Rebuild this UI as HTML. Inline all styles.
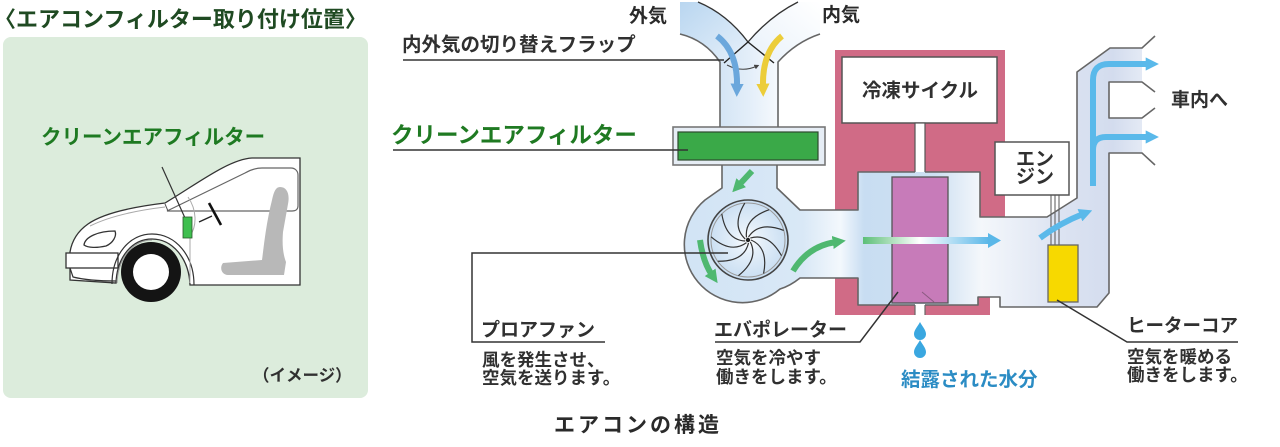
<!DOCTYPE html>
<html>
<head>
<meta charset="utf-8">
<style>
html,body{margin:0;padding:0;background:#fff;}
body{width:1280px;height:447px;overflow:hidden;}
svg{display:block;}
text{font-family:"Liberation Sans","Noto Sans CJK JP",sans-serif;fill:#2a2a2a;}
.b{font-weight:bold;}
.m{font-weight:bold;fill:#303030;}
</style>
</head>
<body>
<svg width="1280" height="447" viewBox="0 0 1280 447" xmlns="http://www.w3.org/2000/svg">
<defs>
  <linearGradient id="duct" gradientUnits="userSpaceOnUse" x1="690" y1="0" x2="1160" y2="0">
    <stop offset="0" stop-color="#d2e4f5"/>
    <stop offset="0.24" stop-color="#d9e8f6"/>
    <stop offset="0.32" stop-color="#f3f8fd"/>
    <stop offset="0.37" stop-color="#c8ddf2"/>
    <stop offset="0.52" stop-color="#cde0f2"/>
    <stop offset="0.62" stop-color="#f4f7fb"/>
    <stop offset="0.78" stop-color="#dde4f2"/>
    <stop offset="0.9" stop-color="#d3dcee"/>
    <stop offset="1" stop-color="#eef2f9"/>
  </linearGradient>
  <linearGradient id="vduct" x1="0" y1="0" x2="1" y2="0">
    <stop offset="0" stop-color="#d4e5f5"/>
    <stop offset="0.5" stop-color="#e3eef9"/>
    <stop offset="1" stop-color="#f6f9fd"/>
  </linearGradient>
  <linearGradient id="lin" x1="0" y1="0" x2="1" y2="1">
    <stop offset="0" stop-color="#b9d6f0"/>
    <stop offset="1" stop-color="#e6f0fa"/>
  </linearGradient>
  <linearGradient id="rin" x1="1" y1="0" x2="0" y2="1">
    <stop offset="0" stop-color="#ffffff"/>
    <stop offset="1" stop-color="#e8f1fa"/>
  </linearGradient>
  <radialGradient id="fan" cx="0.5" cy="0.5" r="0.5">
    <stop offset="0" stop-color="#ffffff"/>
    <stop offset="0.35" stop-color="#e4eff9"/>
    <stop offset="1" stop-color="#c9def2"/>
  </radialGradient>
  <linearGradient id="evarrow" x1="0" y1="0" x2="1" y2="0">
    <stop offset="0" stop-color="#5cbf78"/>
    <stop offset="0.45" stop-color="#ffffff"/>
    <stop offset="1" stop-color="#5ab7e8"/>
  </linearGradient>
  <marker id="mBlue" viewBox="0 0 4 4" refX="1" refY="2" markerWidth="2.2" markerHeight="2.2" orient="auto">
    <path d="M0,0 L4,2 L0,4 Z" fill="#6ba7dc"/>
  </marker>
  <marker id="mYel" viewBox="0 0 4 4" refX="1" refY="2" markerWidth="2.2" markerHeight="2.2" orient="auto">
    <path d="M0,0 L4,2 L0,4 Z" fill="#eccd3a"/>
  </marker>
  <marker id="mGreen" viewBox="0 0 4 4" refX="1" refY="2" markerWidth="2.2" markerHeight="2.2" orient="auto">
    <path d="M0,0 L4,2 L0,4 Z" fill="#4fb870"/>
  </marker>
  <marker id="mSky" viewBox="0 0 4 4" refX="1" refY="2" markerWidth="2.2" markerHeight="2.2" orient="auto">
    <path d="M0,0 L4,2 L0,4 Z" fill="#5ab9ea"/>
  </marker>
  <marker id="mTiny" viewBox="0 0 4 4" refX="2" refY="2" markerWidth="5" markerHeight="5" orient="auto">
    <path d="M0,0 L4,2 L0,4 Z" fill="#444"/>
  </marker>
</defs>

<!-- ===== LEFT PANEL ===== -->
<text x="-6" y="27" class="b" font-size="22" style="fill:#1f4a22">〈エアコンフィルター取り付け位置〉</text>
<rect x="3" y="37" width="365" height="361" rx="8" fill="#dcecdc"/>
<text x="41" y="144" class="b" font-size="20.5" style="fill:#1e7a22">クリーンエアフィルター</text>

<!-- car -->
<path d="M300,158 L252,158 C232,159 205,178 178,195 L165,203 C140,206 105,212 88,224 C78,231 72,240 70,252 L70,280 L116,283 C117,257 132,239 152,239 C172,239 189,258 190,285 L300,285 Z" fill="#fff" stroke="#333" stroke-width="1.3"/>
<rect x="66" y="253" width="52" height="15" fill="#fff" stroke="#333" stroke-width="1.3"/>
<path d="M70,268 L73,277 C85,280 100,281 116,281" fill="none" stroke="#333" stroke-width="1.2"/>
<path d="M112,284 C112,254 130,234 152,234 C176,234 194,256 194,285" fill="none" stroke="#333" stroke-width="1.2"/>
<path d="M117,283 C118,258 133,240 152,240" fill="none" stroke="#999" stroke-width="1"/>
<path d="M167,211 L245,173 C250,170 255,168 262,168 L291,168 C295,168 298,171 298,175 L298,206 C298,209 296,211 292,211 Z" fill="none" stroke="#666" stroke-width="1.2"/>
<path d="M165,204 L168,211" fill="none" stroke="#555" stroke-width="1"/>
<path d="M90,226 C110,216 140,210 165,207" fill="none" stroke="#aaa" stroke-width="1"/>
<path d="M188,197 C197,210 197,226 190,236 L190,283" fill="none" stroke="#aaa" stroke-width="1"/>
<path d="M84,245 C85,237 98,231 115,231 C117,236 113,243 106,246 C97,248 88,248 84,245 Z" fill="#fff" stroke="#333" stroke-width="1.3"/>
<path d="M280,187 C287,187 290,194 288,204 L283,232 C282,245 283,254 286,262 L284,275 L228,275 C222,275 219,268 223,263 L262,260 C264,245 266,224 272,200 C274,191 276,187 280,187 Z" fill="#b8b8b8"/>
<circle cx="151" cy="272" r="30" fill="#141414"/>
<circle cx="151" cy="272" r="18" fill="#fff"/>
<line x1="162" y1="167" x2="185" y2="218" stroke="#333" stroke-width="1.2"/>
<rect x="183" y="217" width="9" height="21" fill="#3fbf4f" stroke="#2a5a2a" stroke-width="0.8"/>
<line x1="199" y1="222" x2="212" y2="216" stroke="#222" stroke-width="1.3"/>
<line x1="209" y1="203" x2="221" y2="225" stroke="#111" stroke-width="2.6"/>
<text x="253" y="381" class="m" font-size="16.5">（イメージ）</text>

<!-- ===== AIRCON DIAGRAM ===== -->
<path d="M835,50 H1005 V217 H990 V315 H835 Z" fill="#d06b86"/>
<rect x="842" y="57" width="155" height="66" fill="#fff" stroke="#555" stroke-width="1.5"/>
<rect x="915" y="123" width="10" height="54" fill="#fff" stroke="#555" stroke-width="1.2"/>

<path d="M680,34 Q705,40 720,62 L748,42 Q727,14 698,2 L680,2 Z" fill="url(#lin)"/>
<path d="M798,2 Q770,16 748,42 L778,62 Q796,42 820,34 L820,2 Z" fill="url(#rin)"/>
<path d="M720,62 L748,42 L778,62 L778,128 L720,128 Z" fill="url(#vduct)"/>

<path d="M722,165 L777,165 L777,188 L800,210 L858,210 L858,172 L980,172 L980,217 L1047,217 L1077,198 L1077,72 L1110,48 L1142,48 L1142,82 L1109,82 L1109,118 L1142,118 L1142,153 L1109,153 L1109,293 L1097,307 L1000,307 L1000,297 L978,297 L978,305 L858,305 L858,278 L800,278 Q790,286 780,289 A58,58 0 0,1 705,200 L722,188 Z" fill="url(#duct)"/>
<rect x="915" y="304" width="10" height="12" fill="#fff"/>
<line x1="915" y1="305" x2="915" y2="315" stroke="#666" stroke-width="1.2"/>
<line x1="925" y1="305" x2="925" y2="315" stroke="#666" stroke-width="1.2"/>

<rect x="673" y="127" width="152" height="38" fill="#e6edf5" stroke="#777" stroke-width="1.6"/>
<rect x="678" y="132" width="140" height="28" fill="#3aa948" stroke="#2d4a2d" stroke-width="1.2"/>

<rect x="892" y="177" width="56" height="126" fill="#c77bb9" stroke="#555" stroke-width="1.3"/>
<line x1="922" y1="292" x2="934" y2="302" stroke="#8a5a80" stroke-width="1"/>

<rect x="995" y="142" width="74" height="53" fill="#fff" stroke="#555" stroke-width="1.5"/>
<line x1="1051" y1="195" x2="1051" y2="245" stroke="#555" stroke-width="1"/>
<line x1="1055" y1="195" x2="1055" y2="245" stroke="#555" stroke-width="1"/>
<line x1="1059" y1="195" x2="1059" y2="245" stroke="#555" stroke-width="1"/>
<rect x="1048" y="245" width="30" height="57" fill="#f7d900" stroke="#666" stroke-width="1.3"/>

<g fill="none" stroke="#666" stroke-width="1.6" stroke-linejoin="round">
  <path d="M680,34 Q705,40 720,62 L720,127"/>
  <path d="M820,34 Q796,42 778,62 L778,127"/>
  <path d="M698,2 Q727,14 748,42 Q770,16 798,2" stroke="#333" stroke-width="1.3"/>
  <path d="M722,165 L722,188 L705,200 A58,58 0 0,0 780,289 Q790,286 800,278 L858,278 L858,305 L915,305 M925,305 L978,305 L978,297 L1000,297 L1000,307 L1097,307 L1109,293 L1109,153 L1142,153 L1155,165"/>
  <path d="M777,165 L777,188 L800,210 L858,210 L858,172 L915,172 M925,172 L980,172 L980,217 L1047,217 L1077,198 L1077,72 L1110,48 L1142,48 L1155,36"/>
  <path d="M1155,92 L1142,82 L1109,82 L1109,118 L1142,118 L1155,108"/>
</g>
<line x1="748" y1="42" x2="724" y2="63" stroke="#222" stroke-width="1.4"/>
<line x1="748" y1="42" x2="774" y2="63" stroke="#222" stroke-width="1.4"/>
<path d="M727,65 Q742,73 757,66" fill="none" stroke="#444" stroke-width="1" marker-end="url(#mTiny)"/>

<path d="M717,36 Q738,52 737,87" fill="none" stroke="#6ba7dc" stroke-width="6" marker-end="url(#mBlue)"/>
<path d="M782,36 Q762,52 763,87" fill="none" stroke="#eccd3a" stroke-width="6" marker-end="url(#mYel)"/>

<circle cx="748" cy="240" r="40" fill="url(#fan)" stroke="#444" stroke-width="1.6"/>
<circle cx="748" cy="240" r="37" fill="none" stroke="#999" stroke-width="1"/>
<g fill="none" stroke="#333" stroke-width="1.2">
  <path d="M751,240 Q768.7,247.5 763.6,273.5"/>
  <path d="M750.3,241.9 Q759,259.1 738.4,275.7"/>
  <path d="M748.5,243 Q744.2,261.7 717.7,261.2"/>
  <path d="M746.5,242.6 Q731.1,254.1 711.1,236.8"/>
  <path d="M745.2,241 Q726,240 721.8,213.8"/>
  <path d="M745.2,239 Q731.1,225.9 744.8,203.1"/>
  <path d="M746.5,237.4 Q744.2,218.3 769.2,209.7"/>
  <path d="M748.5,237 Q759,220.9 783.7,230.4"/>
  <path d="M750.3,238.1 Q768.7,232.5 781.5,255.7"/>
</g>
<circle cx="748" cy="240" r="2.2" fill="#222"/>

<path d="M752,171 L739,185" fill="none" stroke="#4fb870" stroke-width="6" marker-end="url(#mGreen)"/>
<path d="M700,240 Q703,262 712,275" fill="none" stroke="#4fb870" stroke-width="6" marker-end="url(#mGreen)"/>
<path d="M793,271 Q808,246 836,242" fill="none" stroke="#4fb870" stroke-width="6" marker-end="url(#mGreen)"/>

<rect x="863" y="237" width="126" height="7" fill="url(#evarrow)"/>
<path d="M988,233 L1001,240.5 L988,248 Z" fill="#5ab7e8"/>

<path d="M1040,238 Q1060,223 1083,214" fill="none" stroke="#5ab9ea" stroke-width="6" marker-end="url(#mSky)"/>
<path d="M1093,186 L1093,80 Q1093,64 1109,64 L1149,64" fill="none" stroke="#5ab9ea" stroke-width="6" marker-end="url(#mSky)"/>
<path d="M1093,150 Q1093,137 1106,137 L1149,137" fill="none" stroke="#5ab9ea" stroke-width="6"  marker-end="url(#mSky)"/>

<path d="M920,322 C918,326 914,330 914,334 A6,6 0 0,0 926,334 C926,330 922,326 920,322 Z" fill="#3aa7e0"/>
<path d="M920,340 C918,344 914,348 914,352 A6,6 0 0,0 926,352 C926,348 922,344 920,340 Z" fill="#3aa7e0"/>

<g fill="none" stroke="#333" stroke-width="1.5">
  <line x1="403" y1="60" x2="724" y2="60"/>
  <line x1="393" y1="150" x2="688" y2="150"/>
  <path d="M728,253 L472,253 L472,342 L605,342"/>
  <path d="M715,342 L860,342 L898,292"/>
  <path d="M1238,342 L1127,342 L1057,300"/>
</g>

<text x="629" y="22" class="b" font-size="19">外気</text>
<text x="822" y="21" class="b" font-size="19">内気</text>
<text x="402" y="51" class="m" font-size="19.5">内外気の切り替えフラップ</text>
<text x="391" y="143" class="b" font-size="22.5" style="fill:#1f7a22">クリーンエアフィルター</text>
<text x="862" y="97" class="m" font-size="19.5">冷凍サイクル</text>
<text x="1016" y="165" class="m" font-size="19">エン</text>
<text x="1016" y="183" class="m" font-size="19">ジン</text>
<text x="1171" y="106" class="m" font-size="19">車内へ</text>

<text x="481" y="336" class="m" font-size="19">プロアファン</text>
<text x="482" y="366" class="m" font-size="17.5">風を発生させ、</text>
<text x="482" y="384" class="m" font-size="17.5">空気を送ります。</text>

<text x="714" y="336" class="m" font-size="19">エバポレーター</text>
<text x="716" y="364" class="m" font-size="17.5">空気を冷やす</text>
<text x="716" y="383" class="m" font-size="17.5">働きをします。</text>

<text x="901" y="386" class="b" font-size="19.5" style="fill:#2b8cc4">結露された水分</text>

<text x="1127" y="332" class="m" font-size="18.5">ヒーターコア</text>
<text x="1127" y="363" class="m" font-size="17.5">空気を暖める</text>
<text x="1127" y="381" class="m" font-size="17.5">働きをします。</text>

<text x="554" y="432" class="b" font-size="21" letter-spacing="3">エアコンの構造</text>
</svg>
</body>
</html>
